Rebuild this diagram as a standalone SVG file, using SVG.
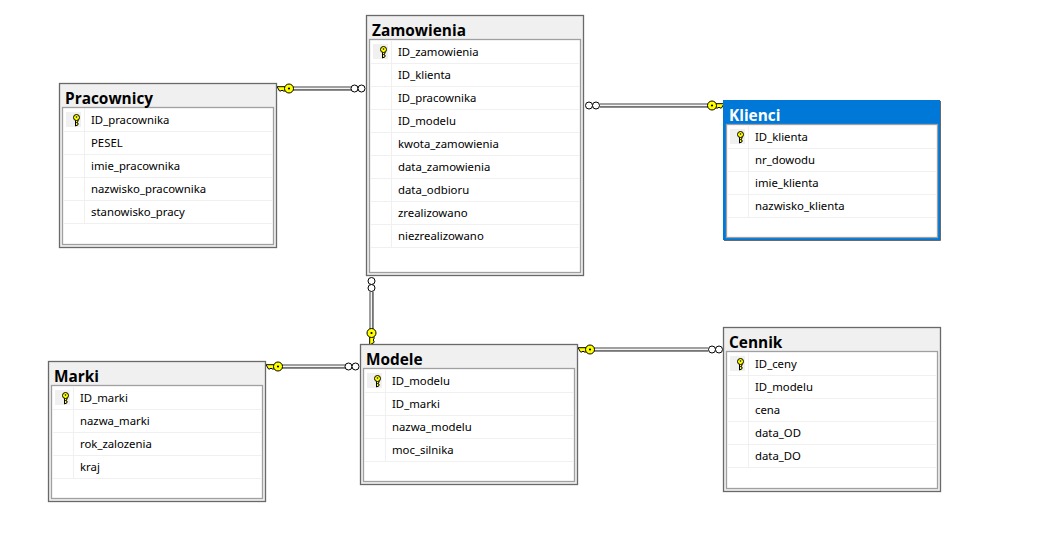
<svg xmlns="http://www.w3.org/2000/svg" width="1037" height="543" viewBox="0 0 1037 543">
<style>
.o{fill:#f0f0f0;stroke:#696969;stroke-width:1.300}
.i{fill:#fff;stroke:#a0a0a0;stroke-width:1.300}
.r{stroke:#f0f0f0;stroke-width:1;fill:none}
.t{font:bold 15.400px "Open Sans","Noto Sans",sans-serif;fill:#000}
.f{font:11.350px "Noto Sans","Open Sans",sans-serif;fill:#000}
.k{fill:#f0f0f0}
.c1{stroke:#a0a0a0;stroke-width:4;fill:none}
.c2{stroke:#696969;stroke-width:1.500;fill:none}
.c3{stroke:#f4f4f4;stroke-width:1;fill:none}
.ring{fill:#fff;stroke:#000;stroke-width:1}
.kf{fill:#ffff00;stroke:#000;stroke-width:1}
</style>
<defs>
<g id="key"><path d="M0 0V7l2.500-1.200V4L1 3.500 2.500 2.500V0Z" class="kf" transform="translate(-1 -1)"/><circle cx="0" cy="-2.500" r="3" class="kf"/><circle cy="-3" r=".8" fill="#000"/></g>
<g id="kh"><path d="M-3-1.800H-12L-9.500 2.500H-8L-7 1.500-6 2.500H-3Z" class="kf"/><circle r="4.500" class="kf"/><circle r="1.100" fill="#000"/></g>
<g id="rr"><circle cx="-4" r="3.500" class="ring"/><circle cx="3" r="3.500" class="ring"/></g>
</defs>
<rect width="1037" height="543" fill="#fff"/>
<g id="connectors">
<path class="c1" d="M292 88H351"/><path class="c2" d="M292 90H351"/><path class="c3" d="M292 88.500H351"/>
<path class="c1" d="M600 105H708"/><path class="c2" d="M600 107H708"/><path class="c3" d="M600 105.500H708"/>
<path class="c1" d="M371 292V330"/><path class="c2" d="M373 292V330"/><path class="c3" d="M371.500 292V330"/>
<path class="c1" d="M282 366H345"/><path class="c2" d="M282 368H345"/><path class="c3" d="M282 366.500H345"/>
<path class="c1" d="M594 349H708"/><path class="c2" d="M594 351H708"/><path class="c3" d="M594 349.500H708"/>
<use href="#kh" x="289" y="88.500"/><use href="#rr" x="358.500" y="88.500"/>
<use href="#rr" x="593" y="105.500"/><use href="#kh" transform="translate(712 105.500) scale(-1 1)"/>
<use href="#kh" transform="translate(371.500 333) rotate(-90)"/><use href="#rr" transform="translate(371.500 285) rotate(90)"/>
<use href="#kh" x="278" y="366.500"/><use href="#rr" x="352.500" y="366.500"/>
<use href="#kh" x="590" y="349.500"/><use href="#rr" x="716" y="349.500"/>
</g>
<g id="Zamowienia"><rect class="o" x="366.500" y="15.500" width="217" height="260"/><rect class="i" x="369.500" y="39.500" width="211" height="233"/>
<path class="r" d="M371 63.500H579M371 86.500H579M371 109.500H579M371 132.500H579M371 155.500H579M371 178.500H579M371 201.500H579M371 224.500H579M371 247.500H579M391.500 41V248"/>
<rect class="k" x="373" y="44" width="15" height="15"/><use href="#key" x="383.500" y="52"/>
<text class="t" x="372" y="36">Zamowienia</text>
<text class="f" x="398" y="56">ID_zamowienia</text><text class="f" x="398" y="79">ID_klienta</text><text class="f" x="398" y="102">ID_pracownika</text><text class="f" x="398" y="125">ID_modelu</text><text class="f" x="398" y="148">kwota_zamowienia</text><text class="f" x="398" y="171">data_zamowienia</text><text class="f" x="398" y="194">data_odbioru</text><text class="f" x="398" y="217">zrealizowano</text><text class="f" x="398" y="240">niezrealizowano</text></g>
<g id="Pracownicy"><rect class="o" x="59.500" y="83.500" width="217" height="164"/><rect class="i" x="62.500" y="107.500" width="211" height="137"/>
<path class="r" d="M64 131.500H272M64 154.500H272M64 177.500H272M64 200.500H272M64 223.500H272M84.500 109V224"/>
<rect class="k" x="66" y="112" width="15" height="15"/><use href="#key" x="76.500" y="120"/>
<text class="t" x="65" y="104">Pracownicy</text>
<text class="f" x="91" y="124">ID_pracownika</text><text class="f" x="91" y="147">PESEL</text><text class="f" x="91" y="170">imie_pracownika</text><text class="f" x="91" y="193">nazwisko_pracownika</text><text class="f" x="91" y="216">stanowisko_pracy</text></g>
<g id="Klienci"><rect x="723.500" y="100.500" width="216" height="139" fill="#0078d7" stroke="#0078d7" stroke-width="1"/><path d="M940.500 101V240.500H724" fill="none" stroke="#696969" stroke-width="1"/><rect class="i" x="726.500" y="124.500" width="211" height="113"/>
<path class="r" d="M728 148.500H936M728 171.500H936M728 194.500H936M728 217.500H936M748.500 126V218"/>
<rect class="k" x="730" y="129" width="15" height="15"/><use href="#key" x="740.500" y="137"/>
<text class="t" x="729" y="121" style="fill:#fff">Klienci</text>
<text class="f" x="755" y="141">ID_klienta</text><text class="f" x="755" y="164">nr_dowodu</text><text class="f" x="755" y="187">imie_klienta</text><text class="f" x="755" y="210">nazwisko_klienta</text></g>
<g id="Modele"><rect class="o" x="360.500" y="344.500" width="217" height="140"/><rect class="i" x="363.500" y="368.500" width="211" height="113"/>
<path class="r" d="M365 392.500H573M365 415.500H573M365 438.500H573M365 461.500H573M385.500 370V462"/>
<rect class="k" x="367" y="373" width="15" height="15"/><use href="#key" x="377.500" y="381"/>
<text class="t" x="366" y="365">Modele</text>
<text class="f" x="392" y="385">ID_modelu</text><text class="f" x="392" y="408">ID_marki</text><text class="f" x="392" y="431">nazwa_modelu</text><text class="f" x="392" y="454">moc_silnika</text></g>
<g id="Marki"><rect class="o" x="48.500" y="361.500" width="217" height="140"/><rect class="i" x="51.500" y="385.500" width="211" height="113"/>
<path class="r" d="M53 409.500H261M53 432.500H261M53 455.500H261M53 478.500H261M73.500 387V479"/>
<rect class="k" x="55" y="390" width="15" height="15"/><use href="#key" x="65.500" y="398"/>
<text class="t" x="54" y="382">Marki</text>
<text class="f" x="80" y="402">ID_marki</text><text class="f" x="80" y="425">nazwa_marki</text><text class="f" x="80" y="448">rok_zalozenia</text><text class="f" x="80" y="471">kraj</text></g>
<g id="Cennik"><rect class="o" x="723.500" y="327.500" width="217" height="164"/><rect class="i" x="726.500" y="351.500" width="211" height="137"/>
<path class="r" d="M728 375.500H936M728 398.500H936M728 421.500H936M728 444.500H936M728 467.500H936M748.500 353V468"/>
<rect class="k" x="730" y="356" width="15" height="15"/><use href="#key" x="740.500" y="364"/>
<text class="t" x="729" y="348">Cennik</text>
<text class="f" x="755" y="368">ID_ceny</text><text class="f" x="755" y="391">ID_modelu</text><text class="f" x="755" y="414">cena</text><text class="f" x="755" y="437">data_OD</text><text class="f" x="755" y="460">data_DO</text></g>
</svg>
